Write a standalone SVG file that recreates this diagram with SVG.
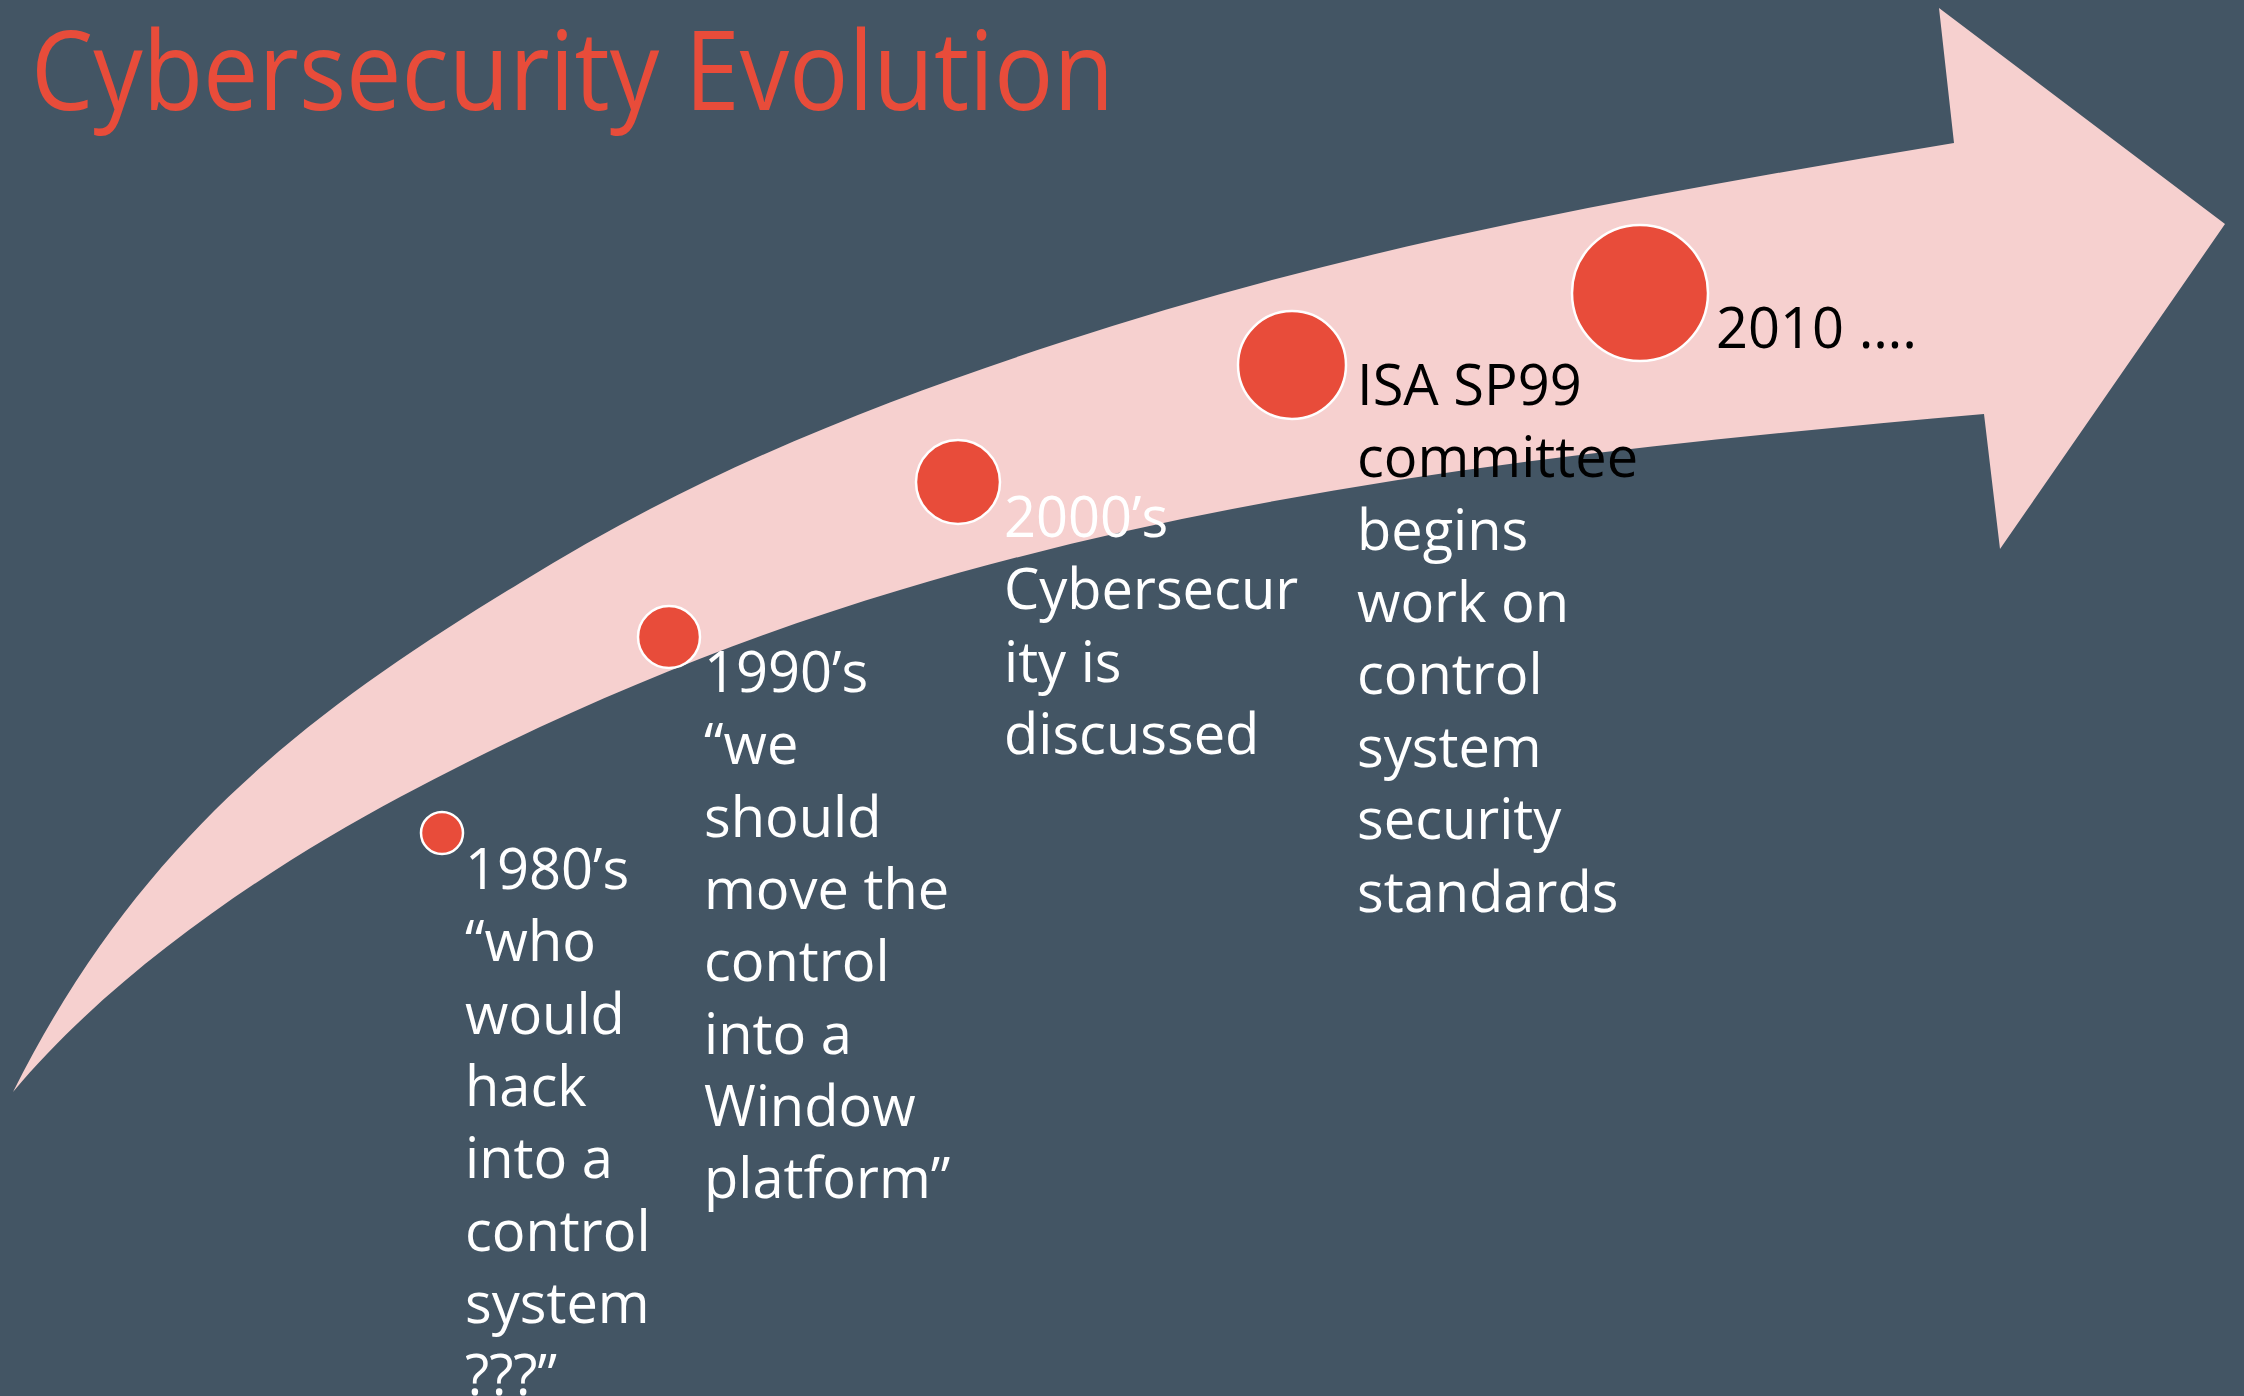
<svg xmlns="http://www.w3.org/2000/svg" width="2244" height="1396" viewBox="0 0 2244 1396">
  <style>
    .bg { fill: #435564; }
    .arrow { fill: #F6D0CF; }
    .dot { fill: #E84C3A; stroke: #FFFFFF; stroke-width: 2.5; }
    .title { font-family: "Open Sans", "Noto Sans", sans-serif; font-size: 109px; fill: #E84C3A; }
    .label { font-family: "Open Sans", "Noto Sans", sans-serif; font-size: 56px; fill: #FFFFFF; }
    .dark { fill: #000000; }
  </style>

  <rect class="bg" x="0" y="0" width="2244" height="1396"/>

  <!-- curved timeline arrow -->
  <g id="connectors">
    <path id="timeline-arrow" class="arrow" d="M 13 1092
      C 143 832, 320 705, 520 583
      C 700 471, 879 402, 1059 343
      C 1359 244, 1654 193, 1954 143
      L 1939 8
      L 2225 224
      L 2000 549
      L 1984 414
      C 1624 446, 1260 482, 900 590
      C 733 640, 567 708, 400 797
      C 270 866, 113 972, 13 1092 Z"/>
  </g>

  <g id="title">
    <text class="title" x="31" y="110" textLength="1083" lengthAdjust="spacingAndGlyphs">Cybersecurity Evolution</text>
  </g>

  <g id="node-1980s">
    <circle class="dot" cx="442" cy="833" r="21"/>
    <text class="label" x="465" y="889">
      <tspan x="465" y="889">1980’s</tspan>
      <tspan x="465" y="961">“who</tspan>
      <tspan x="465" y="1034">would</tspan>
      <tspan x="465" y="1106">hack</tspan>
      <tspan x="465" y="1178">into a</tspan>
      <tspan x="465" y="1251">control</tspan>
      <tspan x="465" y="1323">system</tspan>
      <tspan x="465" y="1395">???”</tspan>
    </text>
  </g>

  <g id="node-1990s">
    <circle class="dot" cx="669" cy="637" r="31"/>
    <text class="label" x="704" y="692">
      <tspan x="704" y="692">1990’s</tspan>
      <tspan x="704" y="764">“we</tspan>
      <tspan x="704" y="837">should</tspan>
      <tspan x="704" y="909">move the</tspan>
      <tspan x="704" y="981">control</tspan>
      <tspan x="704" y="1054">into a</tspan>
      <tspan x="704" y="1126">Window</tspan>
      <tspan x="704" y="1198">platform”</tspan>
    </text>
  </g>

  <g id="node-2000s">
    <circle class="dot" cx="958" cy="482" r="42"/>
    <text class="label" x="1004" y="537">
      <tspan x="1004" y="537">2000’s</tspan>
      <tspan x="1004" y="609">Cybersecur</tspan>
      <tspan x="1004" y="682">ity is</tspan>
      <tspan x="1004" y="754">discussed</tspan>
    </text>
  </g>

  <g id="node-isa-sp99">
    <circle class="dot" cx="1292" cy="365" r="54"/>
    <text class="label" x="1357" y="405">
      <tspan class="dark" x="1357" y="405">ISA SP99</tspan>
      <tspan class="dark" x="1357" y="477">committee</tspan>
      <tspan x="1357" y="550">begins</tspan>
      <tspan x="1357" y="622">work on</tspan>
      <tspan x="1357" y="694">control</tspan>
      <tspan x="1357" y="767">system</tspan>
      <tspan x="1357" y="839">security</tspan>
      <tspan x="1357" y="912">standards</tspan>
    </text>
  </g>

  <g id="node-2010">
    <circle class="dot" cx="1640" cy="293" r="68"/>
    <text class="label dark" x="1716" y="348">2010 ….</text>
  </g>
</svg>
